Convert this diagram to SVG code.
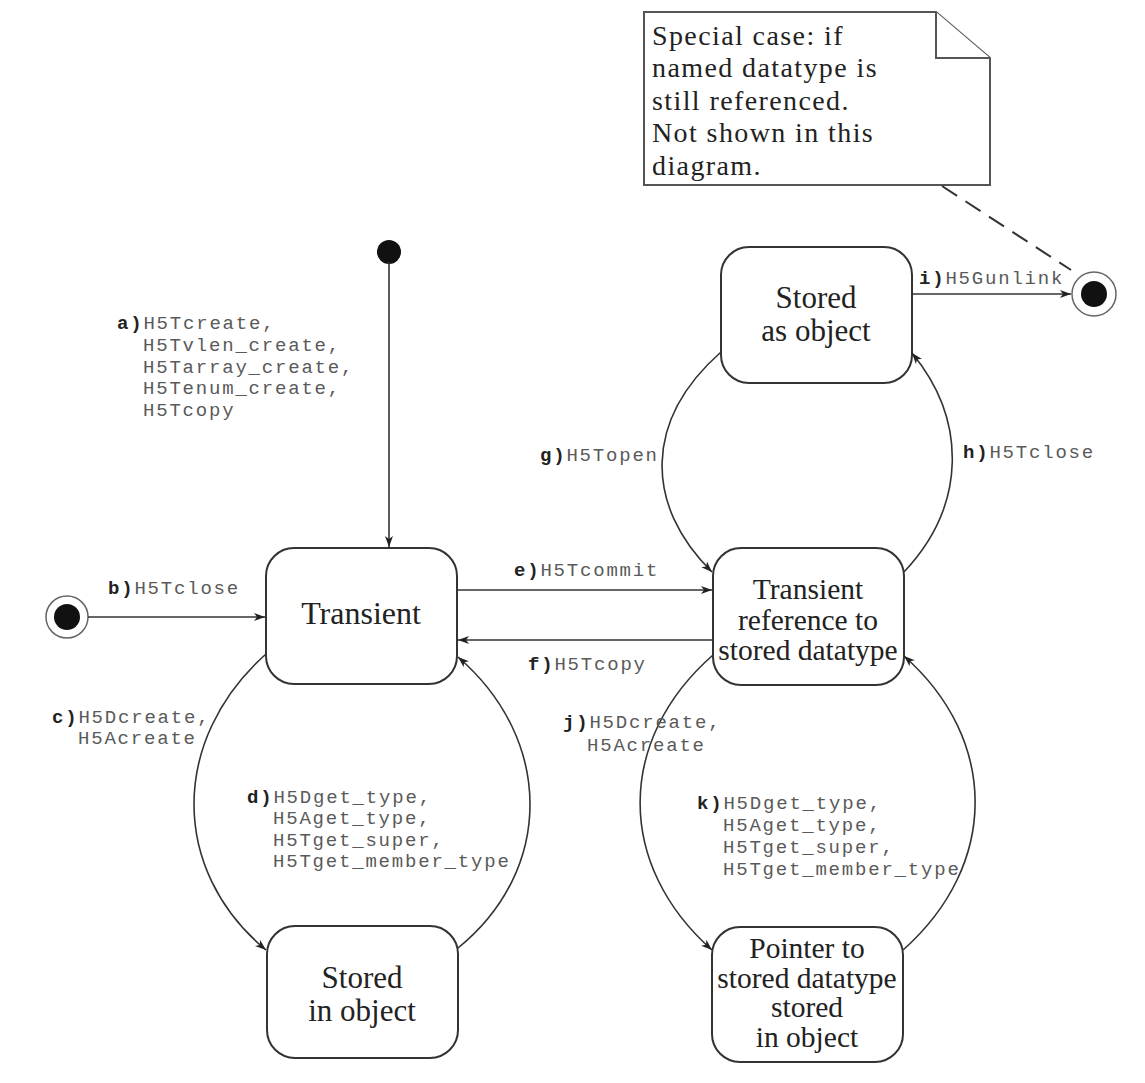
<svg xmlns="http://www.w3.org/2000/svg" width="1145" height="1083" viewBox="0 0 1145 1083">
<style>
.node{fill:#fff;stroke:#333;stroke-width:2}
.nt{font-family:"Liberation Serif",serif;font-size:31px;fill:#222;text-anchor:middle}
.nt2{font-family:"Liberation Serif",serif;font-size:29.5px;fill:#222;text-anchor:middle}
.lbl{font-family:"Liberation Mono",monospace;font-size:19px;letter-spacing:1.8px;fill:#5a5a5a}
.k{font-weight:bold;fill:#222}
.edge{fill:none;stroke:#333;stroke-width:1.6}
.note{fill:#fff;stroke:#555;stroke-width:2}
.notet{font-family:"Liberation Serif",serif;font-size:28px;letter-spacing:1.4px;fill:#222}
</style>
<defs>
<marker id="arr" markerWidth="12" markerHeight="10" refX="11" refY="4" orient="auto" markerUnits="userSpaceOnUse">
<path d="M0,0 L11,4 L0,8 L3,4 z" fill="#222"/>
</marker>
</defs>
<rect width="1145" height="1083" fill="#fff"/>

<g id="note">
<path class="note" d="M644,12 H936 L990,58 V185 H644 Z"/>
<path class="note" d="M936,12 V58 H990"/>
<text class="notet" x="652" y="45">Special case: if</text>
<text class="notet" x="652" y="77">named datatype is</text>
<text class="notet" x="652" y="110">still referenced.</text>
<text class="notet" x="652" y="142">Not shown in this</text>
<text class="notet" x="652" y="175">diagram.</text>
</g>

<g id="start-top"><circle cx="389" cy="252" r="12" fill="#111"/></g>
<g id="start-left"><circle cx="67" cy="617" r="21" fill="#fff" stroke="#666" stroke-width="1.5"/><circle cx="67" cy="617" r="13" fill="#111"/></g>
<g id="final-right"><circle cx="1094" cy="294" r="22" fill="#fff" stroke="#666" stroke-width="1.5"/><circle cx="1094" cy="294" r="13" fill="#111"/></g>

<g id="transient">
<rect class="node" x="266" y="548" width="191" height="136" rx="28"/>
<text class="nt" x="361" y="624" style="font-size:32px">Transient</text>
</g>
<g id="stored-in-object">
<rect class="node" x="267" y="926" width="191" height="132" rx="28"/>
<text class="nt" x="362" y="988">Stored</text>
<text class="nt" x="362" y="1021">in object</text>
</g>
<g id="stored-as-object">
<rect class="node" x="721" y="247" width="191" height="136" rx="28"/>
<text class="nt" x="816" y="308">Stored</text>
<text class="nt" x="816" y="341">as object</text>
</g>
<g id="transient-ref">
<rect class="node" x="713" y="548" width="191" height="137" rx="28"/>
<text class="nt2" x="808" y="599">Transient</text>
<text class="nt2" x="808" y="630">reference to</text>
<text class="nt2" x="808" y="660">stored datatype</text>
</g>
<g id="pointer">
<rect class="node" x="712" y="927" width="191" height="135" rx="28"/>
<text class="nt2" x="807" y="958">Pointer to</text>
<text class="nt2" x="807" y="988">stored datatype</text>
<text class="nt2" x="807" y="1017">stored</text>
<text class="nt2" x="807" y="1047">in object</text>
</g>

<g id="connectors">
<line class="edge" x1="389" y1="262" x2="389" y2="547" marker-end="url(#arr)"/>
<line class="edge" x1="88" y1="617" x2="265" y2="617" marker-end="url(#arr)"/>
<line class="edge" x1="457" y1="590" x2="712" y2="590" marker-end="url(#arr)"/>
<line class="edge" x1="713" y1="640" x2="458" y2="640" marker-end="url(#arr)"/>
<line class="edge" x1="912" y1="294" x2="1071" y2="294" marker-end="url(#arr)"/>
<line x1="942" y1="186" x2="1071" y2="270" stroke="#333" stroke-width="2" stroke-dasharray="18,10"/>
<path class="edge" d="M266,654 C170,740 170,870 266,950" marker-end="url(#arr)"/>
<path class="edge" d="M458,948 C554,870 554,740 458,657" marker-end="url(#arr)"/>
<path class="edge" d="M721,352 C644,420 644,505 712,572" marker-end="url(#arr)"/>
<path class="edge" d="M904,572 C967,505 967,420 912,353" marker-end="url(#arr)"/>
<path class="edge" d="M713,655 C616,740 616,865 712,950" marker-end="url(#arr)"/>
<path class="edge" d="M903,950 C999,865 999,740 904,656" marker-end="url(#arr)"/>
</g>

<g id="labels">
<text class="lbl" x="117" y="329"><tspan class="k">a)</tspan>H5Tcreate,</text>
<text class="lbl" x="143" y="351">H5Tvlen_create,</text>
<text class="lbl" x="143" y="373">H5Tarray_create,</text>
<text class="lbl" x="143" y="394">H5Tenum_create,</text>
<text class="lbl" x="143" y="416">H5Tcopy</text>
<text class="lbl" x="108" y="594"><tspan class="k">b)</tspan>H5Tclose</text>
<text class="lbl" x="52" y="723"><tspan class="k">c)</tspan>H5Dcreate,</text>
<text class="lbl" x="78" y="744">H5Acreate</text>
<text class="lbl" x="247" y="803"><tspan class="k">d)</tspan>H5Dget_type,</text>
<text class="lbl" x="273" y="824">H5Aget_type,</text>
<text class="lbl" x="273" y="846">H5Tget_super,</text>
<text class="lbl" x="273" y="867">H5Tget_member_type</text>
<text class="lbl" x="514" y="576"><tspan class="k">e)</tspan>H5Tcommit</text>
<text class="lbl" x="528" y="670"><tspan class="k">f)</tspan>H5Tcopy</text>
<text class="lbl" x="540" y="461"><tspan class="k">g)</tspan>H5Topen</text>
<text class="lbl" x="963" y="458"><tspan class="k">h)</tspan>H5Tclose</text>
<text class="lbl" x="919" y="284"><tspan class="k">i)</tspan>H5Gunlink</text>
<text class="lbl" x="563" y="728"><tspan class="k">j)</tspan>H5Dcreate,</text>
<text class="lbl" x="587" y="751">H5Acreate</text>
<text class="lbl" x="697" y="809"><tspan class="k">k)</tspan>H5Dget_type,</text>
<text class="lbl" x="723" y="831">H5Aget_type,</text>
<text class="lbl" x="723" y="853">H5Tget_super,</text>
<text class="lbl" x="723" y="875">H5Tget_member_type</text>
</g>
</svg>
